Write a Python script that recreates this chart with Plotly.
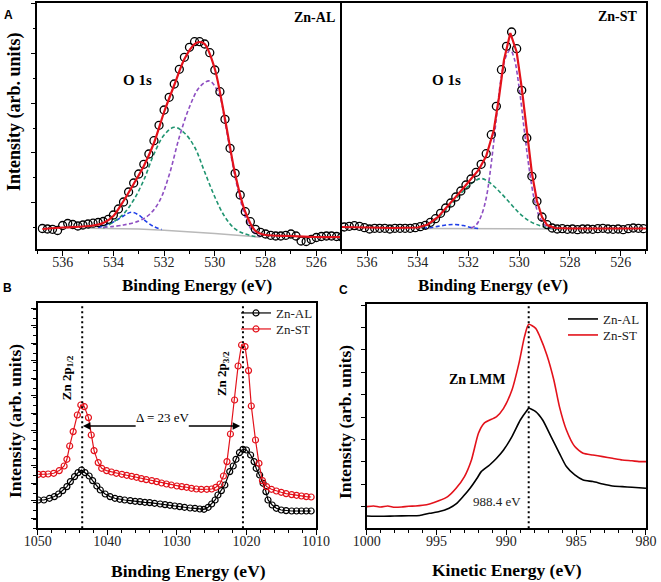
import plotly.graph_objects as go

# ---------------- data ----------------
# Panel A, Zn-AL (O 1s), binding energy in eV, intensity in arb. units
al_o1s_energy = [536.8, 536.6, 536.4, 536.2, 536.0, 535.8, 535.6, 535.4, 535.2, 535.0,
                 534.8, 534.6, 534.4, 534.2, 534.0, 533.8, 533.6, 533.4, 533.2, 533.0,
                 532.8, 532.6, 532.4, 532.2, 532.0, 531.8, 531.6, 531.4, 531.2, 531.0,
                 530.8, 530.6, 530.4, 530.2, 530.0, 529.8, 529.6, 529.4, 529.2, 529.0,
                 528.8, 528.6, 528.4, 528.2, 528.0, 527.8, 527.6, 527.4, 527.2, 527.0,
                 526.8, 526.6, 526.4, 526.2, 526.0, 525.8, 525.6, 525.4, 525.2, 525.0]
al_o1s_counts = [18.5, 18.0, 17.7, 16.5, 21.5, 23.5, 22.5, 21.0, 22.0, 23.0,
                 23.8, 24.5, 25.5, 27.7, 32.0, 38.0, 45.0, 55.0, 64.0, 73.0,
                 82.7, 93.0, 106.3, 121.7, 137.0, 149.7, 163.0, 177.7, 189.7, 199.7,
                 205.3, 205.3, 203.0, 194.3, 177.0, 155.3, 127.7, 98.7, 73.7, 52.0,
                 35.3, 25.3, 17.7, 14.7, 13.0, 11.7, 11.0, 11.0, 11.7, 13.0,
                 11.0, 6.0, 5.5, 7.5, 9.5, 10.5, 11.0, 11.0, 10.5, 10.0]
al_fit_energy = [536.8, 536.0, 535.2, 534.8, 534.4, 534.0, 533.6, 533.2, 532.8, 532.4, 532.0,
                 531.6, 531.2, 530.8, 530.6, 530.4, 530.0, 529.6, 529.2, 528.8, 528.4,
                 528.0, 527.0, 526.0, 525.0]
al_fit_counts = [18.0, 19.5, 20.5, 21.5, 24.0, 31.0, 46.0, 63.0, 81.0, 104.0, 135.0,
                 162.0, 188.0, 203.0, 205.0, 203.0, 178.0, 128.0, 73.0, 35.0, 16.0,
                 12.0, 11.0, 10.0, 10.0]
al_bg_energy = [535.0, 534.0, 533.0, 532.0, 531.0, 530.0, 529.0, 528.2]
al_bg_counts = [18.7, 18.5, 18.0, 16.8, 15.3, 13.5, 11.5, 9.8]
al_c1_energy = [534.6, 534.0, 533.6, 533.3, 533.0, 532.7, 532.4, 532.1]
al_c1_counts = [19.5, 25.0, 31.0, 34.7, 32.0, 25.3, 20.3, 17.5]
al_c2_energy = [534.4, 534.0, 533.6, 533.2, 532.8, 532.4, 532.0, 531.6, 531.2, 530.8,
                530.4, 530.0, 529.6, 529.2, 528.8, 528.4]
al_c2_counts = [19.0, 25.0, 33.0, 47.0, 67.0, 93.0, 112.0, 119.7, 114.0, 100.0,
                75.0, 50.0, 30.0, 18.0, 13.0, 10.5]
al_c3_energy = [534.4, 533.6, 533.0, 532.6, 532.2, 531.8, 531.4, 531.0, 530.6, 530.2,
                529.8, 529.6, 529.4, 529.2, 529.0, 528.8, 528.6, 528.4, 528.2]
al_c3_counts = [19.5, 22.0, 26.0, 32.0, 45.0, 72.0, 110.0, 140.0, 160.0, 166.0,
                150.0, 125.0, 97.0, 70.0, 48.0, 30.0, 19.0, 13.0, 10.5]

# Panel A, Zn-ST (O 1s)
st_o1s_energy = [536.9, 536.7, 536.5, 536.3, 536.1, 535.9, 535.7, 535.5, 535.3, 535.1,
                 534.9, 534.7, 534.5, 534.3, 534.1, 533.9, 533.7, 533.5, 533.3, 533.1,
                 532.9, 532.7, 532.5, 532.3, 532.1, 531.9, 531.7, 531.5, 531.3, 531.1,
                 530.9, 530.7, 530.5, 530.3, 530.1, 529.9, 529.7, 529.5, 529.3, 529.1,
                 528.9, 528.7, 528.5, 528.3, 528.1, 527.9, 527.7, 527.5, 527.3, 527.1,
                 526.9, 526.7, 526.5, 526.3, 526.1, 525.9, 525.7, 525.5, 525.3, 525.1]
st_o1s_counts = [21.0, 21.7, 22.3, 21.7, 20.3, 19.0, 19.7, 19.7, 19.7, 19.0,
                 19.7, 19.7, 19.7, 19.7, 20.3, 21.3, 22.7, 25.7, 29.3, 34.7,
                 40.0, 45.0, 51.0, 57.0, 63.0, 69.0, 75.7, 83.7, 94.3, 113.3,
                 141.7, 178.3, 201.7, 216.0, 199.3, 157.7, 110.0, 71.7, 46.7, 31.0,
                 23.3, 20.0, 19.0, 19.3, 18.7, 19.0, 18.3, 19.0, 19.0, 18.7,
                 19.3, 19.7, 19.0, 18.7, 19.0, 18.3, 19.3, 20.0, 19.7, 19.3]
st_fit_energy = [537.0, 536.0, 535.0, 534.0, 533.6, 533.2, 532.8, 532.4, 532.0, 531.6,
                 531.3, 531.0, 530.8, 530.6, 530.35, 530.1, 529.9, 529.7, 529.5, 529.3,
                 529.1, 528.9, 528.6, 528.0, 527.0, 526.0, 525.0]
st_fit_counts = [21.0, 20.5, 20.0, 20.5, 23.5, 31.0, 42.0, 54.0, 66.0, 78.0,
                 92.0, 118.0, 150.0, 188.0, 215.0, 196.0, 160.0, 115.0, 75.0, 47.0,
                 31.0, 23.0, 20.0, 19.5, 19.5, 19.5, 19.5]
st_bg_energy = [534.0, 528.6]
st_bg_counts = [19.5, 19.0]
st_c1_energy = [533.8, 533.4, 533.0, 532.6, 532.2, 531.9, 531.6]
st_c1_counts = [19.7, 20.8, 22.5, 23.5, 22.5, 20.5, 19.5]
st_c2_energy = [533.8, 533.4, 533.0, 532.6, 532.2, 531.8, 531.5, 531.2, 530.8, 530.4,
                530.0, 529.6, 529.2, 528.8, 528.4]
st_c2_counts = [21.0, 26.0, 35.0, 46.0, 57.0, 66.0, 69.5, 66.0, 57.0, 46.0,
                35.0, 27.0, 22.5, 20.0, 19.0]
st_c3_energy = [531.9, 531.7, 531.5, 531.3, 531.1, 530.9, 530.7, 530.5, 530.35, 530.2,
                530.0, 529.8, 529.6, 529.4, 529.2, 529.0, 528.8, 528.6]
st_c3_counts = [20.0, 23.0, 32.0, 50.0, 85.0, 130.0, 172.0, 193.0, 198.0, 190.0,
                160.0, 118.0, 78.0, 48.0, 31.0, 23.0, 20.5, 19.5]

# Panel B, Zn 2p
al_2p_energy = [1049.9, 1049.1, 1048.3, 1047.6, 1047.0, 1046.4, 1045.8, 1045.3, 1044.7, 1044.2,
                1043.7, 1043.2, 1042.6, 1042.1, 1041.5, 1041.0, 1040.3, 1039.6, 1038.9, 1038.2,
                1037.5, 1036.7, 1036.0, 1035.3, 1034.6, 1033.9, 1033.2, 1032.4, 1031.7, 1031.0,
                1030.3, 1029.6, 1028.9, 1028.1, 1027.4, 1026.7, 1026.1, 1025.5, 1025.0, 1024.5,
                1024.1, 1023.6, 1023.1, 1022.4, 1021.9, 1021.5, 1021.0, 1020.5, 1020.0, 1019.4,
                1018.9, 1018.6, 1018.1, 1017.6, 1017.2, 1016.9, 1016.3, 1015.7, 1015.0, 1014.3,
                1013.5, 1012.8, 1012.1, 1011.4, 1010.7]
al_2p_counts = [28.3, 28.3, 30.0, 31.7, 34.3, 37.7, 41.7, 46.7, 51.7, 55.7,
                58.3, 55.7, 52.3, 47.7, 42.3, 38.3, 34.3, 31.7, 30.0, 29.0,
                28.3, 27.7, 27.0, 26.7, 26.0, 25.7, 25.0, 24.3, 23.7, 23.0,
                22.3, 21.7, 21.0, 20.3, 20.0, 19.3, 19.0, 21.0, 24.3, 28.3,
                33.3, 37.7, 43.3, 56.7, 62.3, 69.0, 75.7, 79.0, 78.3, 73.3,
                66.7, 60.0, 53.3, 45.0, 36.7, 28.3, 23.3, 20.0, 18.3, 17.7,
                17.3, 17.3, 17.3, 17.3, 17.3]
st_2p_energy = [1049.9, 1049.2, 1048.5, 1047.7, 1046.9, 1046.2, 1045.8, 1045.4, 1044.9, 1044.3,
                1043.8, 1043.3, 1042.7, 1042.3, 1041.9, 1041.3, 1040.8, 1040.1, 1039.4, 1038.7,
                1037.9, 1037.2, 1036.5, 1035.8, 1035.1, 1034.4, 1033.6, 1032.9, 1032.2, 1031.5,
                1030.8, 1030.0, 1029.3, 1028.6, 1027.9, 1027.2, 1026.5, 1025.7, 1025.0, 1024.4,
                1023.8, 1023.3, 1022.8, 1022.3, 1021.7, 1021.2, 1020.7, 1020.2, 1019.7, 1019.3,
                1018.7, 1018.2, 1017.7, 1017.1, 1016.4, 1015.7, 1015.0, 1014.3, 1013.5, 1012.8,
                1012.1, 1011.4, 1010.7]
st_2p_counts = [54.0, 54.0, 54.3, 55.0, 57.7, 62.3, 69.0, 82.3, 96.7, 113.3,
                123.3, 121.7, 110.7, 93.3, 77.7, 65.7, 60.0, 57.7, 56.3, 55.0,
                54.0, 53.0, 52.0, 51.0, 49.7, 48.7, 47.7, 46.7, 45.3, 44.3,
                43.3, 42.3, 41.7, 41.0, 40.0, 39.3, 39.0, 39.0, 39.3, 41.0,
                44.3, 52.3, 66.7, 94.3, 128.3, 162.3, 183.3, 181.7, 157.7, 122.3,
                88.3, 65.0, 47.7, 41.7, 39.0, 37.3, 36.0, 34.7, 33.7, 33.0,
                32.3, 31.7, 31.3]
zn2p_peaks = [1043.6, 1020.5]

# Panel C, Zn LMM (kinetic energy)
al_lmm_energy = [1000.0, 999.0, 998.0, 997.0, 996.2, 995.5, 994.8, 994.1, 993.6, 993.1,
                 992.6, 992.1, 991.8, 991.2, 990.7, 990.2, 989.6, 989.0, 988.5, 988.4,
                 987.9, 987.4, 986.8, 986.2, 985.7, 985.1, 984.5, 983.8, 983.1, 982.4,
                 981.7, 981.0, 980.5, 980.0]
al_lmm_counts = [12.3, 12.0, 12.3, 12.5, 12.8, 15.0, 16.7, 20.0, 24.3, 31.7,
                 40.0, 50.0, 56.7, 63.3, 70.0, 78.3, 91.7, 108.3, 118.3, 120.0,
                 116.7, 108.3, 91.7, 75.0, 61.7, 53.3, 48.3, 46.7, 44.3, 42.3,
                 41.7, 41.0, 40.5, 40.0]
st_lmm_energy = [1000.0, 999.5, 999.0, 998.5, 998.0, 997.5, 997.0, 996.5, 996.0, 995.5,
                 994.8, 994.2, 993.6, 993.0, 992.5, 992.0, 991.6, 990.7, 990.2, 989.6,
                 989.1, 988.7, 988.4, 987.9, 987.6, 987.1, 986.6, 986.2, 985.7, 985.1,
                 984.5, 983.8, 983.1, 982.4, 981.7, 981.0, 980.5, 980.0]
st_lmm_counts = [21.7, 22.3, 21.3, 22.3, 21.0, 21.3, 22.0, 22.3, 23.0, 24.3,
                 27.7, 31.7, 40.0, 51.7, 68.3, 95.0, 105.0, 111.7, 120.0, 138.3,
                 165.0, 191.7, 204.0, 200.0, 191.7, 173.3, 148.3, 121.7, 98.3, 81.7,
                 75.0, 73.3, 71.7, 70.0, 68.3, 67.5, 66.7, 66.7]
lmm_peak = 988.4

# ---------------- style ----------------
SERIF = "Liberation Serif, Times New Roman, Times, serif"
SANS = "Liberation Sans, Arial, sans-serif"
RED = "#e3121b"
PURPLE = "#8e4fc2"
GREEN = "#1f9470"
BLUE = "#1f3fe8"
GRAY = "#b9b9b9"
W, H = 661, 582
SHORT_DASH = "4px,2.5px"
DOTS = "2px,3px"


def px(x, y):
    """pixel position -> paper coords"""
    return x / W, 1 - y / H


def frame(**kw):
    d = dict(showline=True, linecolor="black", linewidth=1.5, mirror=True, automargin=False,
             showgrid=False, zeroline=False, ticks="outside", tickcolor="black",
             tickwidth=1, ticklen=5, ticklabelstandoff=-6,
             tickfont=dict(family=SERIF, size=14, color="#222"))
    d.update(kw)
    return d


def dashed(x, y, color, xa, ya):
    return go.Scatter(x=x, y=y, mode="lines", line=dict(color=color, width=1.6, dash=SHORT_DASH, shape="spline"),
                      xaxis=xa, yaxis=ya, showlegend=False, hoverinfo="skip")


fig = go.Figure()

# ---- panel A ----
for xa, ya, bg, c1, c2, c3, pts, fit, shape in [
    ("x", "y", (al_bg_energy, al_bg_counts), (al_c1_energy, al_c1_counts),
     (al_c2_energy, al_c2_counts), (al_c3_energy, al_c3_counts),
     (al_o1s_energy, al_o1s_counts), (al_fit_energy, al_fit_counts), "spline"),
    ("x2", "y2", (st_bg_energy, st_bg_counts), (st_c1_energy, st_c1_counts),
     (st_c2_energy, st_c2_counts), (st_c3_energy, st_c3_counts),
     (st_o1s_energy, st_o1s_counts), (st_fit_energy, st_fit_counts), "linear"),
]:
    fig.add_trace(go.Scatter(x=bg[0], y=bg[1], mode="lines", line=dict(color=GRAY, width=1.6),
                             xaxis=xa, yaxis=ya, showlegend=False))
    fig.add_trace(dashed(*c1, BLUE, xa, ya))
    fig.add_trace(dashed(*c2, GREEN, xa, ya))
    fig.add_trace(dashed(*c3, PURPLE, xa, ya))
    fig.add_trace(go.Scatter(x=pts[0], y=pts[1], mode="markers",
                             marker=dict(symbol="circle-open", size=8, color="black", line=dict(width=1.3)),
                             xaxis=xa, yaxis=ya, showlegend=False))
    fig.add_trace(go.Scatter(x=fit[0], y=fit[1], mode="lines",
                             line=dict(color=RED, width=2.2, shape=shape, smoothing=0.8),
                             xaxis=xa, yaxis=ya, showlegend=False))

# ---- panel B ----  (one small legend per entry so the rows sit tight)
for name, e, c, col, lg in [("Zn-AL", al_2p_energy, al_2p_counts, "black", "legend"),
                            ("Zn-ST", st_2p_energy, st_2p_counts, RED, "legend3")]:
    fig.add_trace(go.Scatter(x=e, y=c, name=name, mode="lines+markers",
                             line=dict(color=col, width=1.2),
                             marker=dict(symbol="circle-open", size=6, color=col, line=dict(width=1.2)),
                             xaxis="x3", yaxis="y3", legend=lg))

# ---- panel C ----
for name, e, c, col, lg in [("Zn-AL", al_lmm_energy, al_lmm_counts, "black", "legend2"),
                            ("Zn-ST", st_lmm_energy, st_lmm_counts, RED, "legend4")]:
    fig.add_trace(go.Scatter(x=e, y=c, name=name, mode="lines",
                             line=dict(color=col, width=1.6, shape="spline", smoothing=0.6),
                             xaxis="x4", yaxis="y4", legend=lg))

# dotted guide lines
shapes = []
for pk in zn2p_peaks:
    shapes.append(dict(type="line", xref="x3", yref="y3 domain", x0=pk, x1=pk, y0=0, y1=1,
                       line=dict(color="black", width=2, dash=DOTS)))
shapes.append(dict(type="line", xref="x4", yref="y4 domain", x0=lmm_peak, x1=lmm_peak, y0=0, y1=1,
                   line=dict(color="black", width=2, dash=DOTS)))

ann = []


def label(text, x, y, size, bold=False, family=SERIF, angle=0, color="black"):
    xp, yp = px(x, y)
    ann.append(dict(text=f"<b>{text}</b>" if bold else text, x=xp, y=yp, xref="paper", yref="paper",
                    showarrow=False, xanchor="center", yanchor="middle", textangle=angle,
                    font=dict(family=family, size=size, color=color)))


label("A", 8.3, 15, 12, True, SANS)
label("B", 7.8, 288, 12, True, SANS)
label("C", 343, 290, 12, True, SANS)
label("Zn-AL", 314, 17, 14, True)
label("Zn-ST", 617.5, 16, 14, True)
label("O 1s", 137.5, 80, 15, True)
label("O 1s", 446.7, 80, 15, True)
label("Intensity (arb. units)", 15, 112, 18, True, angle=-90)
label("Intensity (arb. units)", 15, 421, 17.5, True, angle=-90)
label("Intensity (arb. units)", 345, 422, 17.5, True, angle=-90)
label("Binding Energy (eV)", 197, 285, 17, True)
label("Binding Energy (eV)", 493, 285, 17, True)
label("Binding Energy (eV)", 188, 571, 17.5, True)
label("Kinetic Energy (eV)", 507.5, 570, 17.5, True)

# panel B texts and arrows
ann += [
    dict(text="<b>Zn 2p<sub>1/2</sub></b>", x=1045.8, y=151, xref="x3", yref="y3", showarrow=False,
         textangle=-90, font=dict(family=SERIF, size=13, color="black")),
    dict(text="<b>Zn 2p<sub>3/2</sub></b>", x=1023.4, y=155, xref="x3", yref="y3", showarrow=False,
         textangle=-90, font=dict(family=SERIF, size=13, color="black")),
    dict(text="Δ = 23 eV", x=1032.0, y=111, xref="x3", yref="y3", showarrow=False,
         font=dict(family=SERIF, size=13, color="black")),
    dict(text="", x=1043.5, y=102.3, ax=1035.7, ay=102.3, xref="x3", yref="y3", axref="x3", ayref="y3",
         showarrow=True, arrowhead=2, arrowsize=1, arrowwidth=1.5, arrowcolor="black"),
    dict(text="", x=1020.9, y=102.3, ax=1028.5, ay=102.3, xref="x3", yref="y3", axref="x3", ayref="y3",
         showarrow=True, arrowhead=2, arrowsize=1, arrowwidth=1.5, arrowcolor="black"),
    dict(text="<b>Zn LMM</b>", x=992.1, y=149, xref="x4", yref="y4", showarrow=False,
         font=dict(family=SERIF, size=14, color="black")),
    dict(text="988.4 eV", x=990.7, y=26.7, xref="x4", yref="y4", showarrow=False,
         font=dict(family=SERIF, size=13, color="#222")),
]

minor_a = dict(dtick=1, ticklen=3, ticks="outside", tickcolor="black")


def legend_at(x, y):
    return dict(x=x / W, y=1 - y / H, xanchor="left", yanchor="middle", bgcolor="rgba(0,0,0,0)",
                font=dict(family=SERIF, size=13, color="#222"), tracegroupgap=0)


fig.update_layout(
    template="none",
    width=W, height=H,
    margin=dict(l=0, r=0, t=0, b=0, autoexpand=False),
    paper_bgcolor="white", plot_bgcolor="white",
    xaxis=frame(domain=[0.0564, 0.5169], anchor="y", range=[537, 525], tick0=536, dtick=2, minor=minor_a),
    yaxis=frame(domain=[0.5722, 0.9948], anchor="x", range=[-2, 244], showticklabels=False, mirror=False,
                tick0=44, dtick=50, minor=dict(tick0=19, dtick=25, ticklen=3, ticks="outside", tickcolor="black")),
    xaxis2=frame(domain=[0.5169, 0.9773], anchor="y2", range=[537, 525], tick0=536, dtick=2, minor=minor_a),
    yaxis2=frame(domain=[0.5722, 0.9948], anchor="x2", range=[-1, 245], showticklabels=False, ticks=""),
    xaxis3=frame(domain=[0.0570, 0.4781], anchor="y3", range=[1050, 1010], tick0=1010, dtick=10,
                 minor=dict(dtick=2, ticklen=3, ticks="outside", tickcolor="black")),
    yaxis3=frame(domain=[0.0923, 0.4789], anchor="x3", range=[0, 225], showticklabels=False,
                 tick0=10, dtick=17.5, minor=dict(dtick=8.75, ticklen=3, ticks="outside", tickcolor="black")),
    xaxis4=frame(domain=[0.5548, 0.9773], anchor="y4", range=[1000, 980], tick0=980, dtick=5,
                 minor=dict(dtick=1, ticklen=3, ticks="outside", tickcolor="black")),
    yaxis4=frame(domain=[0.0923, 0.4771], anchor="x4", range=[0, 224], showticklabels=False,
                 tick0=21.7, dtick=22.4, ticklen=4),
    legend=legend_at(236, 313),
    legend3=legend_at(236, 329),
    legend2=legend_at(563, 319),
    legend4=legend_at(563, 335),
    shapes=shapes,
    annotations=ann,
    showlegend=True,
)

# the page body has a default 8px margin; drop it so the figure sits at the window corner
fig.write_html("out.html", config={"displayModeBar": False},
               post_script="document.body.style.margin='0';")
